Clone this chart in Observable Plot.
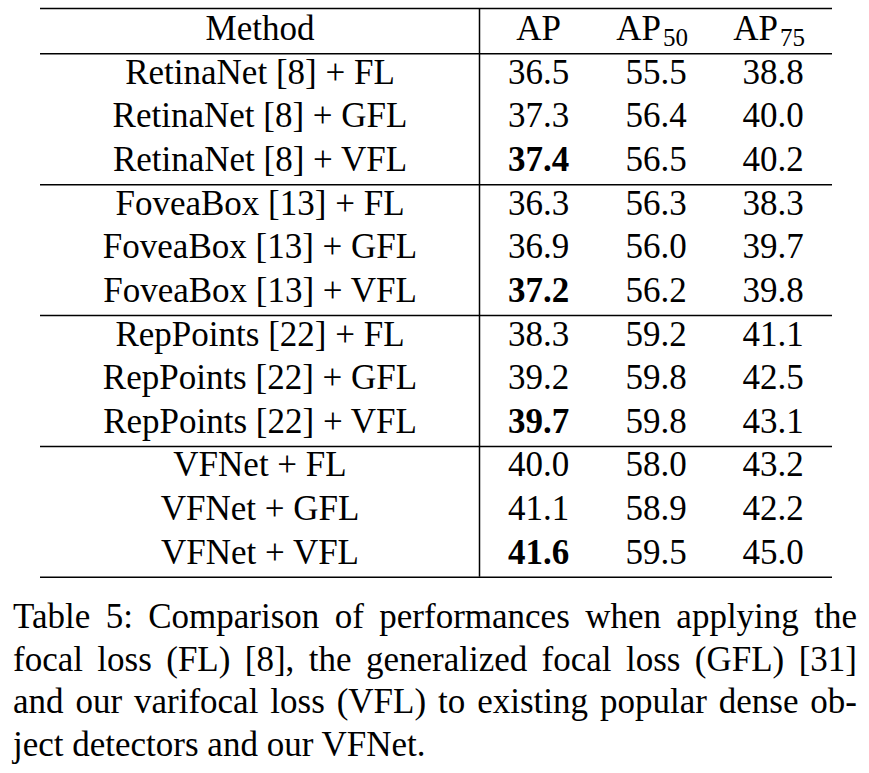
<!DOCTYPE html>
<html>
<head>
<meta charset="utf-8">
<script src="https://cdn.jsdelivr.net/npm/d3@7"></script>
<script src="https://cdn.jsdelivr.net/npm/@observablehq/plot@0.6"></script>
<style>
  html, body { margin: 0; padding: 0; background: #fff; }
  #chart svg { display: block; }
  #cap { width: 844px; margin-left: 13px; margin-top: 6px; font-family: "Liberation Serif", "Times New Roman", serif; font-size: 35px; line-height: 42.7px; color: #000; }
  #cap div { white-space: nowrap; }
  #cap div.j { text-align: justify; text-align-last: justify; }
</style>
</head>
<body>
<div id="chart"></div>
<div id="cap"></div>
<script>
// ---- data ----
const methods = [
  "RetinaNet [8] + FL", "RetinaNet [8] + GFL", "RetinaNet [8] + VFL",
  "FoveaBox [13] + FL", "FoveaBox [13] + GFL", "FoveaBox [13] + VFL",
  "RepPoints [22] + FL", "RepPoints [22] + GFL", "RepPoints [22] + VFL",
  "VFNet + FL", "VFNet + GFL", "VFNet + VFL"
];
const ap   = [36.5, 37.3, 37.4, 36.3, 36.9, 37.2, 38.3, 39.2, 39.7, 40.0, 41.1, 41.6];
const ap50 = [55.5, 56.4, 56.5, 56.3, 56.0, 56.2, 59.2, 59.8, 59.8, 58.0, 58.9, 59.5];
const ap75 = [38.8, 40.0, 40.2, 38.3, 39.7, 39.8, 41.1, 42.5, 43.1, 43.2, 42.2, 45.0];
const headerMain = ["Method", "AP", "AP", "AP"];
const headerSub  = ["", "", "50", "75"];
const groupSize = 3;
const captionLines = [
  "Table 5: Comparison of performances when applying the",
  "focal loss (FL) [8], the generalized focal loss (GFL) [31]",
  "and our varifocal loss (VFL) to existing popular dense ob-",
  "ject detectors and our VFNet."
];

// ---- build table ----
const cells = [];
methods.forEach((m, i) => {
  const row = i + 1;
  const g = Math.floor(i / groupSize);
  const groupMax = d3.max(ap.slice(g * groupSize, g * groupSize + groupSize));
  cells.push({row, col: 0, text: m, bold: false});
  cells.push({row, col: 1, text: ap[i].toFixed(1), bold: ap[i] === groupMax});
  cells.push({row, col: 2, text: ap50[i].toFixed(1), bold: false});
  cells.push({row, col: 3, text: ap75[i].toFixed(1), bold: false});
});
const header = headerMain.map((t, c) => ({row: 0, col: c, text: t, sub: headerSub[c]}));
const nRows = methods.length;
const boundaries = [0].concat(d3.range(groupSize, nRows + 1, groupSize)).map(r => r + 0.57);
const topRule = -0.47;

const font = '"Liberation Serif", "Times New Roman", serif';

const chart = Plot.plot({
  width: 869,
  height: 590,
  marginLeft: 40,
  marginRight: 37,
  marginTop: 0,
  marginBottom: 0,
  style: {fontFamily: font, fontSize: "35px", color: "#000", background: "#fff"},
  x: {type: "linear", domain: [0, 0.5, 1, 2, 3], range: [259.5, 479, 538, 655.5, 772.5], axis: null},
  y: {type: "linear", domain: [0, nRows], range: [28.5, 552], axis: null},
  marks: [
    Plot.ruleY([topRule, ...boundaries], {y: d => d, stroke: "#000", strokeWidth: 1.5}),
    Plot.ruleX([0.5], {x: d => d, y1: topRule, y2: nRows + 0.57, stroke: "#000", strokeWidth: 1.5}),
    // header
    Plot.text(header.filter(d => !d.sub), {x: "col", y: "row", text: "text", fontSize: 35, fill: "#000"}),
    Plot.text(header.filter(d => d.sub), {x: "col", y: "row", text: "text", fontSize: 35, fill: "#000", textAnchor: "end", dx: 5}),
    Plot.text(header.filter(d => d.sub), {x: "col", y: "row", text: "sub", fontSize: 25, fill: "#000", textAnchor: "start", dx: 7, dy: 9}),
    // body
    Plot.text(cells.filter(d => !d.bold), {x: "col", y: "row", text: "text", fontSize: 35, fill: "#000"}),
    Plot.text(cells.filter(d => d.bold), {x: "col", y: "row", text: "text", fontSize: 35, fontWeight: "bold", fill: "#000"})
  ]
});
document.getElementById("chart").appendChild(chart);

const cap = document.getElementById("cap");
captionLines.forEach((t, i) => {
  const div = document.createElement("div");
  if (i < captionLines.length - 1) div.className = "j";
  div.textContent = t;
  cap.appendChild(div);
});
</script>
</body>
</html>
